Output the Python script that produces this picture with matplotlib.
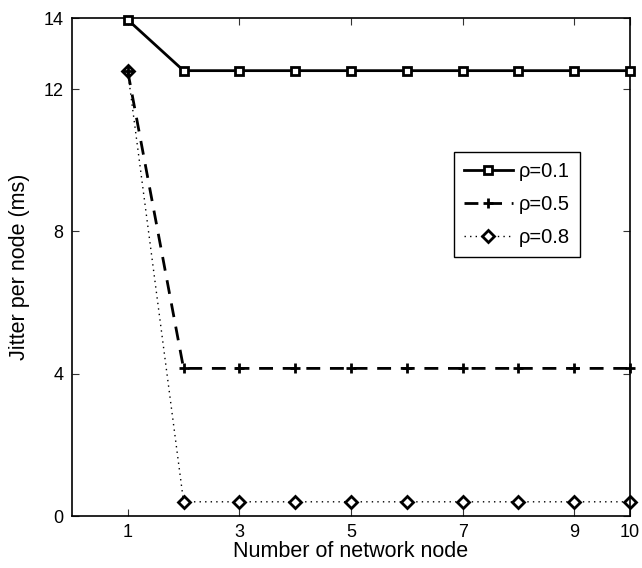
import numpy as np
import matplotlib.pyplot as plt

plt.rcParams['font.family'] = ['Liberation Sans', 'DejaVu Sans']
plt.rcParams['font.size'] = 13

nodes = [1, 2, 3, 4, 5, 6, 7, 8, 9, 10]
jitter_rho01 = [13.95, 12.52, 12.52, 12.52, 12.52, 12.52, 12.52, 12.52, 12.52, 12.52]
jitter_rho05 = [12.5, 4.15, 4.15, 4.15, 4.15, 4.15, 4.15, 4.15, 4.15, 4.15]
jitter_rho08 = [12.5, 0.4, 0.4, 0.4, 0.4, 0.4, 0.4, 0.4, 0.4, 0.4]
labels = ['ρ=0.1', 'ρ=0.5', 'ρ=0.8']
xticks = [1, 3, 5, 7, 9, 10]
yticks = [0, 4, 8, 12, 14]

fig = plt.figure(figsize=(6.42, 5.68), dpi=100)
ax = fig.add_axes([0.1121, 0.0915, 0.8692, 0.8768])

ax.plot(nodes, jitter_rho01, color='black', linestyle='-', linewidth=2,
        marker='s', markersize=6, markerfacecolor='white',
        markeredgewidth=2, label=labels[0], zorder=3, clip_on=False)
ax.plot(nodes, jitter_rho05, color='black', linestyle=(0, (5, 3.5)), linewidth=2,
        marker='+', markersize=7, markeredgewidth=2,
        label=labels[1], zorder=4, clip_on=False)
ax.plot(nodes, jitter_rho08, color='black', linestyle=(0, (1, 3)), linewidth=1,
        marker='D', markersize=6, markerfacecolor='white',
        markeredgewidth=2, label=labels[2], zorder=2, clip_on=False)

ax.set_xlim(0, 10)
ax.set_ylim(0, 14)
ax.set_xticks(xticks)
ax.set_yticks(yticks)
ax.tick_params(direction='in', length=5, width=0.8, pad=6,
               top=True, right=True, colors='#333333', labelcolor='black')
for spine in ax.spines.values():
    spine.set_linewidth(1.2)

ax.set_xlabel('Number of network node', fontsize=15.5, labelpad=0)
ax.set_ylabel('Jitter per node (ms)', fontsize=15.5, labelpad=10)

leg = ax.legend(loc='upper right', bbox_to_anchor=(0.91, 0.731),
                fontsize=14.5, fancybox=False, edgecolor='black', framealpha=1,
                handlelength=2.4, handletextpad=0.3, labelspacing=0.7,
                borderpad=0.5, borderaxespad=0)
leg.get_frame().set_linewidth(1)

fig.savefig('out.png', dpi=100)
